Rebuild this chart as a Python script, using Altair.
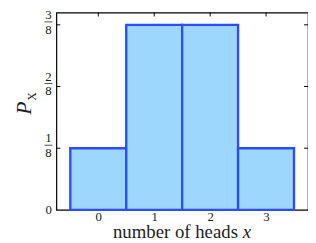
import altair as alt
import pandas as pd

heads = [0, 1, 2, 3]
probs = [1/8, 3/8, 3/8, 1/8]
frac_values = [1/8, 2/8, 3/8]
frac_num = ["1", "2", "3"]
frac_den = ["8", "8", "8"]

W, H = 255, 200
FONT = "Liberation Serif"
TXT = "#222222"

bars_df = pd.DataFrame({"x": heads, "p": probs})
frac_df = pd.DataFrame({"v": frac_values, "num": frac_num, "den": frac_den})
xt_df = pd.DataFrame({"x": heads})

xscale = alt.Scale(domain=[-0.75, 3.75], nice=False, zero=False)
yscale = alt.Scale(domain=[0, 0.4], nice=False)

bars = alt.Chart(bars_df).transform_calculate(
    x0="datum.x - 0.5", x1="datum.x + 0.5"
).mark_bar(fill="#9dd7fd", stroke="#2a4dff", strokeWidth=2.4).encode(
    x=alt.X("x0:Q", scale=xscale,
            axis=alt.Axis(values=heads, format="d", title=None, grid=False, domain=False,
                          ticks=False, labelFont=FONT, labelFontSize=13,
                          labelColor=TXT, labelPadding=1)),
    x2="x1:Q",
    y=alt.Y("p:Q", scale=yscale,
            axis=alt.Axis(values=[0], format="d", title=None, grid=False, domain=False,
                          ticks=False, labelFont=FONT, labelFontSize=13,
                          labelColor=TXT, labelPadding=5)),
    y2=alt.datum(0),
)

left_ticks = alt.Chart(frac_df).mark_rule(color="black", strokeWidth=1).encode(
    y=alt.Y("v:Q", scale=yscale), x=alt.value(0), x2=alt.value(4))
right_ticks = alt.Chart(frac_df).mark_rule(color="black", strokeWidth=1).encode(
    y=alt.Y("v:Q", scale=yscale), x=alt.value(W - 4), x2=alt.value(W))
top_ticks = alt.Chart(xt_df).mark_rule(color="black", strokeWidth=1).encode(
    x=alt.X("x:Q", scale=xscale), y=alt.value(0), y2=alt.value(4))

num = alt.Chart(frac_df).mark_text(font=FONT, fontSize=13, color=TXT, align="center",
                                   baseline="alphabetic", dy=-6).encode(
    y=alt.Y("v:Q", scale=yscale), x=alt.value(-8), text="num:N")
den = alt.Chart(frac_df).mark_text(font=FONT, fontSize=13, color=TXT, align="center",
                                   baseline="alphabetic", dy=9).encode(
    y=alt.Y("v:Q", scale=yscale), x=alt.value(-8), text="den:N")
fbar = alt.Chart(frac_df).mark_rule(color=TXT, strokeWidth=0.8, yOffset=-3).encode(
    y=alt.Y("v:Q", scale=yscale), x=alt.value(-12), x2=alt.value(-4))

ytitle_p = alt.Chart(bars_df.head(1)).mark_text(
    font=FONT, fontSize=22, fontStyle="italic", color=TXT, angle=270,
    align="center", baseline="middle").encode(
    x=alt.value(-33), y=alt.value(97), text=alt.value("P"))
ytitle_x = alt.Chart(bars_df.head(1)).mark_text(
    font=FONT, fontSize=12, color=TXT, angle=270,
    align="center", baseline="middle").encode(
    x=alt.value(-25), y=alt.value(85), text=alt.value("X"))

xtitle_a = alt.Chart(bars_df.head(1)).mark_text(
    font=FONT, fontSize=19, color=TXT, align="right", baseline="alphabetic").encode(
    x=alt.value(184), y=alt.value(228), text=alt.value("number of heads"))
xtitle_b = alt.Chart(bars_df.head(1)).mark_text(
    font=FONT, fontSize=19, fontStyle="italic", color=TXT, align="left",
    baseline="alphabetic").encode(
    x=alt.value(189), y=alt.value(228), text=alt.value("x"))

chart = alt.layer(
    bars, left_ticks, right_ticks, top_ticks, num, den, fbar,
    ytitle_p, ytitle_x, xtitle_a, xtitle_b
).properties(
    width=W, height=H,
    autosize=alt.AutoSizeParams(type="none"),
    padding={"left": 49, "top": 3, "right": 0, "bottom": 32},
).configure_view(stroke="black", strokeWidth=1.2)

chart.save("out.html", embed_options={"renderer": "svg", "actions": False})
